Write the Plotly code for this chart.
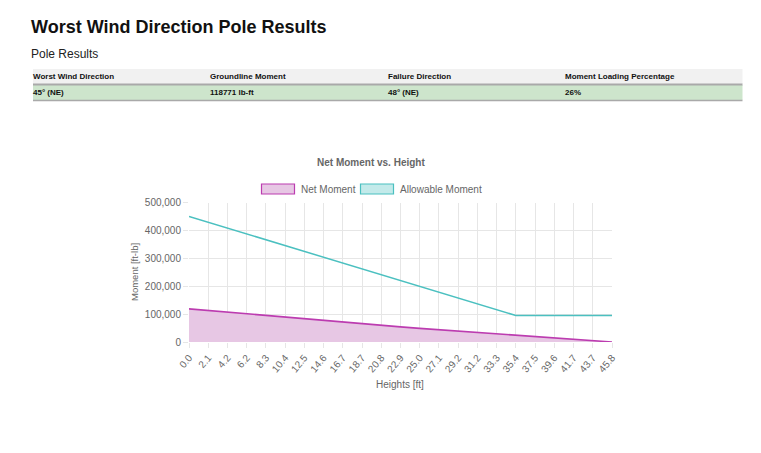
import plotly.graph_objects as go

# %% data
heights = ["0.0", "2.1", "4.2", "6.2", "8.3", "10.4", "12.5", "14.6", "16.7", "18.7",
           "20.8", "22.9", "25.0", "27.1", "29.2", "31.2", "33.3", "35.4", "37.5",
           "39.6", "41.7", "43.7", "45.8"]

net_moment = [118771, 112700, 106700, 100700, 94800, 88900, 83000, 77000, 71100, 65200,
              59400, 54200, 49000, 44000, 39000, 34000, 29200, 24500, 19700, 14800,
              9900, 5000, 0]

allowable_moment = [450000, 429100, 408200, 387400, 366500, 345600, 324700, 303800,
                    282900, 262100, 241200, 220300, 199400, 178500, 157600, 136800,
                    115900, 95000, 95000, 95000, 95000, 95000, 95000]

table_headers = ["Worst Wind Direction", "Groundline Moment", "Failure Direction",
                 "Moment Loading Percentage"]
table_row = ["45° (NE)", "118771 lb-ft", "48° (NE)", "26%"]

# %% page helpers (window pixel -> paper); the page body has an 8px margin
OFF = 8
W, H = 761 - 2 * OFF, 453 - 2 * OFF
FONT = "Liberation Sans, Arial, sans-serif"
GREY = "#666666"
GRID = "#e6e6e6"

def px(x):
    return (x - OFF) / W

def py(y):
    return 1 - (y - OFF) / H

def note(text, x, y, size, color, anchor="left", angle=0):
    return dict(text=text, x=px(x), y=py(y), xref="paper", yref="paper",
                xanchor=anchor, yanchor="middle", showarrow=False, textangle=angle,
                borderpad=0, font=dict(size=size, color=color, family=FONT))

net_line = "rgb(188, 60, 176)"
net_fill = "rgb(231, 199, 228)"
allow_line = "rgb(75, 192, 192)"
allow_fill = "rgb(195, 234, 234)"

# %% figure
fig = go.Figure()

fig.add_trace(
    go.Scatter(
        x=heights,
        y=net_moment,
        name="Net Moment",
        mode="lines",
        line=dict(color=net_line, width=1.6),
        fill="tozeroy",
        fillcolor=net_fill,
    )
)

fig.add_trace(
    go.Scatter(
        x=heights,
        y=allowable_moment,
        name="Allowable Moment",
        mode="lines",
        line=dict(color=allow_line, width=1.5),
    )
)

shapes = []
annotations = []

# page title + subtitle
annotations.append(note("<b>Worst Wind Direction Pole Results</b>", 30, 27, 18, "#111111"))
annotations.append(note("Pole Results", 30, 54, 12, "#222222"))

# results table
t_left, t_right = 33, 742.5
col_w = (t_right - t_left) / len(table_headers)
shapes.append(dict(type="rect", xref="paper", yref="paper", x0=px(t_left), x1=px(t_right),
                   y0=py(69), y1=py(84), fillcolor="#f1f1f1", line_width=0, layer="below"))
shapes.append(dict(type="rect", xref="paper", yref="paper", x0=px(t_left), x1=px(t_right),
                   y0=py(85), y1=py(100), fillcolor="#cde5cc", line_width=0, layer="below"))
shapes.append(dict(type="line", xref="paper", yref="paper", x0=px(t_left), x1=px(t_right),
                   y0=py(84.5), y1=py(84.5), line=dict(color="#a9a9a9", width=2)))
shapes.append(dict(type="line", xref="paper", yref="paper", x0=px(t_left), x1=px(t_right),
                   y0=py(100.5), y1=py(100.5), line=dict(color="#a9a9a9", width=1.5)))
for i, (h, v) in enumerate(zip(table_headers, table_row)):
    annotations.append(note("<b>%s</b>" % h, t_left - 1 + i * col_w, 76.5, 8, "#111111"))
    annotations.append(note("<b>%s</b>" % v, t_left - 1 + i * col_w, 92.5, 8, "#111111"))

# chart title
annotations.append(note("<b>Net Moment vs. Height</b>", 370.5, 162, 10, GREY, anchor="center"))

# legend (boxes drawn like chart.js)
legend_items = [("Net Moment", net_line, net_fill, 261.5), ("Allowable Moment", allow_line, allow_fill, 360.5)]
for label, lc, fc, x0 in legend_items:
    shapes.append(dict(type="rect", xref="paper", yref="paper", x0=px(x0), x1=px(x0 + 33),
                       y0=py(184), y1=py(194), fillcolor=fc, line=dict(color=lc, width=1.2)))
    annotations.append(note(label, x0 + 38, 189, 10, GREY))

# axis titles
annotations.append(note("Moment [ft-lb]", 134, 272, 9.5, GREY, anchor="center", angle=-90))
annotations.append(note("Heights [ft]", 400, 384, 10, GREY, anchor="center"))

fig.update_layout(
    width=W,
    height=H,
    margin=dict(l=0, r=0, t=0, b=0, pad=0, autoexpand=False),
    paper_bgcolor="white",
    plot_bgcolor="white",
    showlegend=False,
    font=dict(family=FONT, color=GREY, size=10),
    shapes=shapes,
    annotations=annotations,
    xaxis=dict(
        domain=[px(189), px(612)],
        type="category",
        range=[0, len(heights) - 1],
        automargin=False,
        showgrid=True,
        gridcolor=GRID,
        gridwidth=1,
        ticks="outside",
        ticklen=5,
        tickcolor=GRID,
        tickangle=-50,
        tickfont=dict(size=10, color=GREY),
        showline=False,
        zeroline=False,
    ),
    yaxis=dict(
        domain=[py(342), py(202.5)],
        range=[0, 500000],
        dtick=100000,
        tickformat=",",
        automargin=False,
        showgrid=True,
        gridcolor=GRID,
        ticks="outside",
        ticklen=5,
        tickcolor=GRID,
        tickfont=dict(size=10, color=GREY),
        showline=False,
        zeroline=False,
    ),
)

fig.write_html("out.html")
